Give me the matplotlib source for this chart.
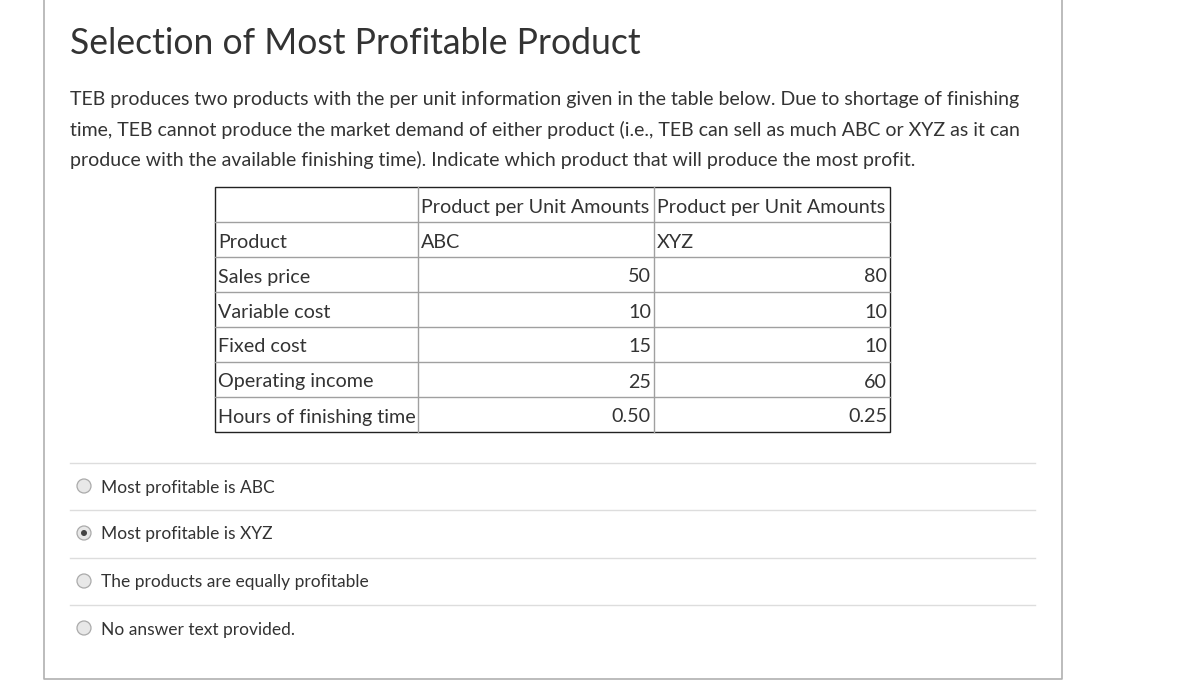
import matplotlib as mpl
mpl.use("Agg")
import matplotlib.pyplot as plt
from matplotlib.patches import Rectangle, Circle

# ---- content ----
title = "Selection of Most Profitable Product"
body_lines = [
    "TEB produces two products with the per unit information given in the table below. Due to shortage of finishing",
    "time, TEB cannot produce the market demand of either product (i.e., TEB can sell as much ABC or XYZ as it can",
    "produce with the available finishing time). Indicate which product that will produce the most profit.",
]
header_row = ["", "Product per Unit Amounts", "Product per Unit Amounts"]
product_row = ["Product", "ABC", "XYZ"]
row_labels = ["Sales price", "Variable cost", "Fixed cost", "Operating income", "Hours of finishing time"]
abc_values = ["50", "10", "15", "25", "0.50"]
xyz_values = ["80", "10", "10", "60", "0.25"]
options = [
    "Most profitable is ABC",
    "Most profitable is XYZ",
    "The products are equally profitable",
    "No answer text provided.",
]
selected = 1

# ---- layout (pixels) ----
W, H = 1183, 689
TXT = "#333333"
FONT = ["Lato", "DejaVu Sans"]

fig = plt.figure(figsize=(W / 100, H / 100), dpi=100)
ax = fig.add_axes([0, 0, 1, 1])
ax.set_xlim(0, W)
ax.set_ylim(H, 0)
ax.axis("off")

# page box
ax.plot([44.5, 44.5, 1062.5, 1062.5], [-5, 678.5, 678.5, -5], color="#b0b0b0", lw=1.2)

ax.text(70, 44, title, fontsize=25.6, family=FONT, weight="normal", color=TXT, va="center", ha="left")

for i, line in enumerate(body_lines):
    ax.text(70, 100 + 30 * i, line, fontsize=14.05, family=FONT, color=TXT, va="center", ha="left")

# table
col_x = [215, 418, 654, 890]
row_h = 35
top = 187
rows = [header_row, product_row] + [[lab, a, b] for lab, a, b in zip(row_labels, abc_values, xyz_values)]
n_rows = len(rows)
bottom = top + row_h * n_rows

for r in range(1, n_rows):
    y = top + r * row_h
    ax.plot([col_x[0], col_x[-1]], [y, y], color="#a0a0a0", lw=1)
for c in range(1, 3):
    ax.plot([col_x[c], col_x[c]], [top, bottom], color="#a0a0a0", lw=1)
ax.add_patch(Rectangle((col_x[0], top), col_x[-1] - col_x[0], bottom - top,
                       fill=False, edgecolor="#222222", lw=1))

for r, row in enumerate(rows):
    yc = top + r * row_h + row_h / 2 + 2.5
    for c, val in enumerate(row):
        if not val:
            continue
        numeric = r >= 2 and c > 0
        if numeric:
            ax.text(col_x[c + 1] - 3, yc, val, fontsize=14.2, family=FONT, color=TXT, va="center", ha="right")
        else:
            ax.text(col_x[c] + 3, yc, val, fontsize=14.2, family=FONT, color=TXT, va="center", ha="left")

# answer options
sep_y = [463, 510, 558, 605]
for i, opt in enumerate(options):
    ax.plot([70, 1035], [sep_y[i], sep_y[i]], color="#dddddd", lw=1)
    yc = sep_y[i] + 23
    ax.add_patch(Circle((84, yc), 7, facecolor="#e8e8e8", edgecolor="#aaaaaa", lw=0.9))
    if i == selected:
        ax.add_patch(Circle((84, yc), 3, facecolor="#444444", edgecolor="none"))
    ax.text(101, yc + 1.5, opt, fontsize=12.5, family=FONT, color=TXT, va="center", ha="left")

fig.savefig("out.png", dpi=100)
